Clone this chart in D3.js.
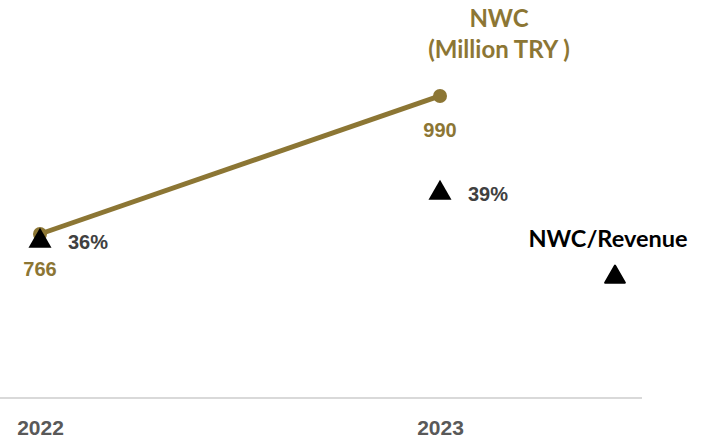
<!DOCTYPE html>
<html>
<head>
<meta charset="utf-8">
<script src="https://cdn.jsdelivr.net/npm/d3@7"></script>
<style>
  html, body { margin: 0; padding: 0; background: #fff; }
  svg { display: block; }
</style>
</head>
<body>
<svg id="chart" width="701" height="439"></svg>
<script>
// Net working capital and its share of revenue by year
const years = ["2022", "2023"];
const nwc = [766, 990];          // Million TRY
const nwcRatio = [36, 39];       // NWC / Revenue, %

const olive = "#8C7634";
const svg = d3.select("#chart");

const x = d3.scalePoint().domain(years).range([40, 440]);
const yNwc = d3.scaleLinear().domain([600, 1100]).range([336.3, 28.2]);
const yRatio = d3.scaleLinear().domain([30, 45]).range([337, 97]);

// baseline axis
const xAxis = d3.axisBottom(x).tickSize(0).tickPadding(0);
const axisG = svg.append("g").attr("transform", "translate(0,398)").call(xAxis);
axisG.select(".domain").remove();
axisG.append("line")
  .attr("x1", 0).attr("x2", 642).attr("y1", 0).attr("y2", 0)
  .attr("stroke", "#d9d9d9").attr("stroke-width", 2);
axisG.selectAll(".tick text")
  .attr("y", 37).attr("dy", 0)
  .attr("fill", "#595959")
  .style("font-family", "'Liberation Sans', Arial, sans-serif")
  .style("font-weight", "bold")
  .style("font-size", "21px");

// NWC line
const pts = years.map((y, i) => ({ year: y, v: nwc[i], r: nwcRatio[i] }));
svg.append("path")
  .datum(pts)
  .attr("fill", "none")
  .attr("stroke", olive)
  .attr("stroke-width", 5)
  .attr("d", d3.line().x(d => x(d.year)).y(d => yNwc(d.v)));

svg.selectAll("circle.nwc")
  .data(pts).join("circle")
  .attr("class", "nwc")
  .attr("cx", d => x(d.year)).attr("cy", d => yNwc(d.v))
  .attr("r", 7).attr("fill", olive);

// ratio markers
const tri = d3.symbol().type(d3.symbolTriangle).size(230);
svg.selectAll("path.ratio")
  .data(pts).join("path")
  .attr("class", "ratio")
  .attr("d", tri)
  .attr("transform", d => `translate(${x(d.year)},${yRatio(d.r)})`)
  .attr("fill", "#000");

// value labels
const labelFont = "'Liberation Sans', Arial, sans-serif";
svg.selectAll("text.nwcLbl")
  .data(pts).join("text")
  .attr("class", "nwcLbl")
  .attr("x", d => x(d.year))
  .attr("y", (d, i) => yNwc(d.v) + (i === 0 ? 42 : 41))
  .attr("text-anchor", "middle")
  .attr("fill", olive)
  .style("font-family", labelFont)
  .style("font-weight", "bold")
  .style("font-size", "20px")
  .text(d => d.v);

svg.selectAll("text.ratioLbl")
  .data(pts).join("text")
  .attr("class", "ratioLbl")
  .attr("x", d => x(d.year) + 28)
  .attr("y", d => yRatio(d.r) + 8)
  .attr("fill", "#404040")
  .style("font-family", labelFont)
  .style("font-weight", "bold")
  .style("font-size", "20px")
  .text(d => d.r + "%");

// series titles
const titleFont = "Lato, 'Open Sans', sans-serif";
const title = svg.append("text")
  .attr("x", 499).attr("text-anchor", "middle")
  .attr("fill", olive)
  .style("font-family", titleFont)
  .style("font-weight", "bold")
  .style("font-size", "24px");
title.append("tspan").attr("x", 499).attr("y", 27).text("NWC");
title.append("tspan").attr("x", 499).attr("y", 58).text("(Million TRY )");

svg.append("text")
  .attr("x", 608).attr("y", 247).attr("text-anchor", "middle")
  .attr("fill", "#000")
  .style("font-family", titleFont)
  .style("font-weight", "bold")
  .style("font-size", "23.5px")
  .text("NWC/Revenue");

svg.append("path")
  .attr("d", d3.symbol().type(d3.symbolTriangle).size(170))
  .attr("transform", "translate(615,277)")
  .attr("fill", "#000")
  .attr("stroke", "#000")
  .attr("stroke-width", 2)
  .attr("stroke-linejoin", "round");
</script>
</body>
</html>
